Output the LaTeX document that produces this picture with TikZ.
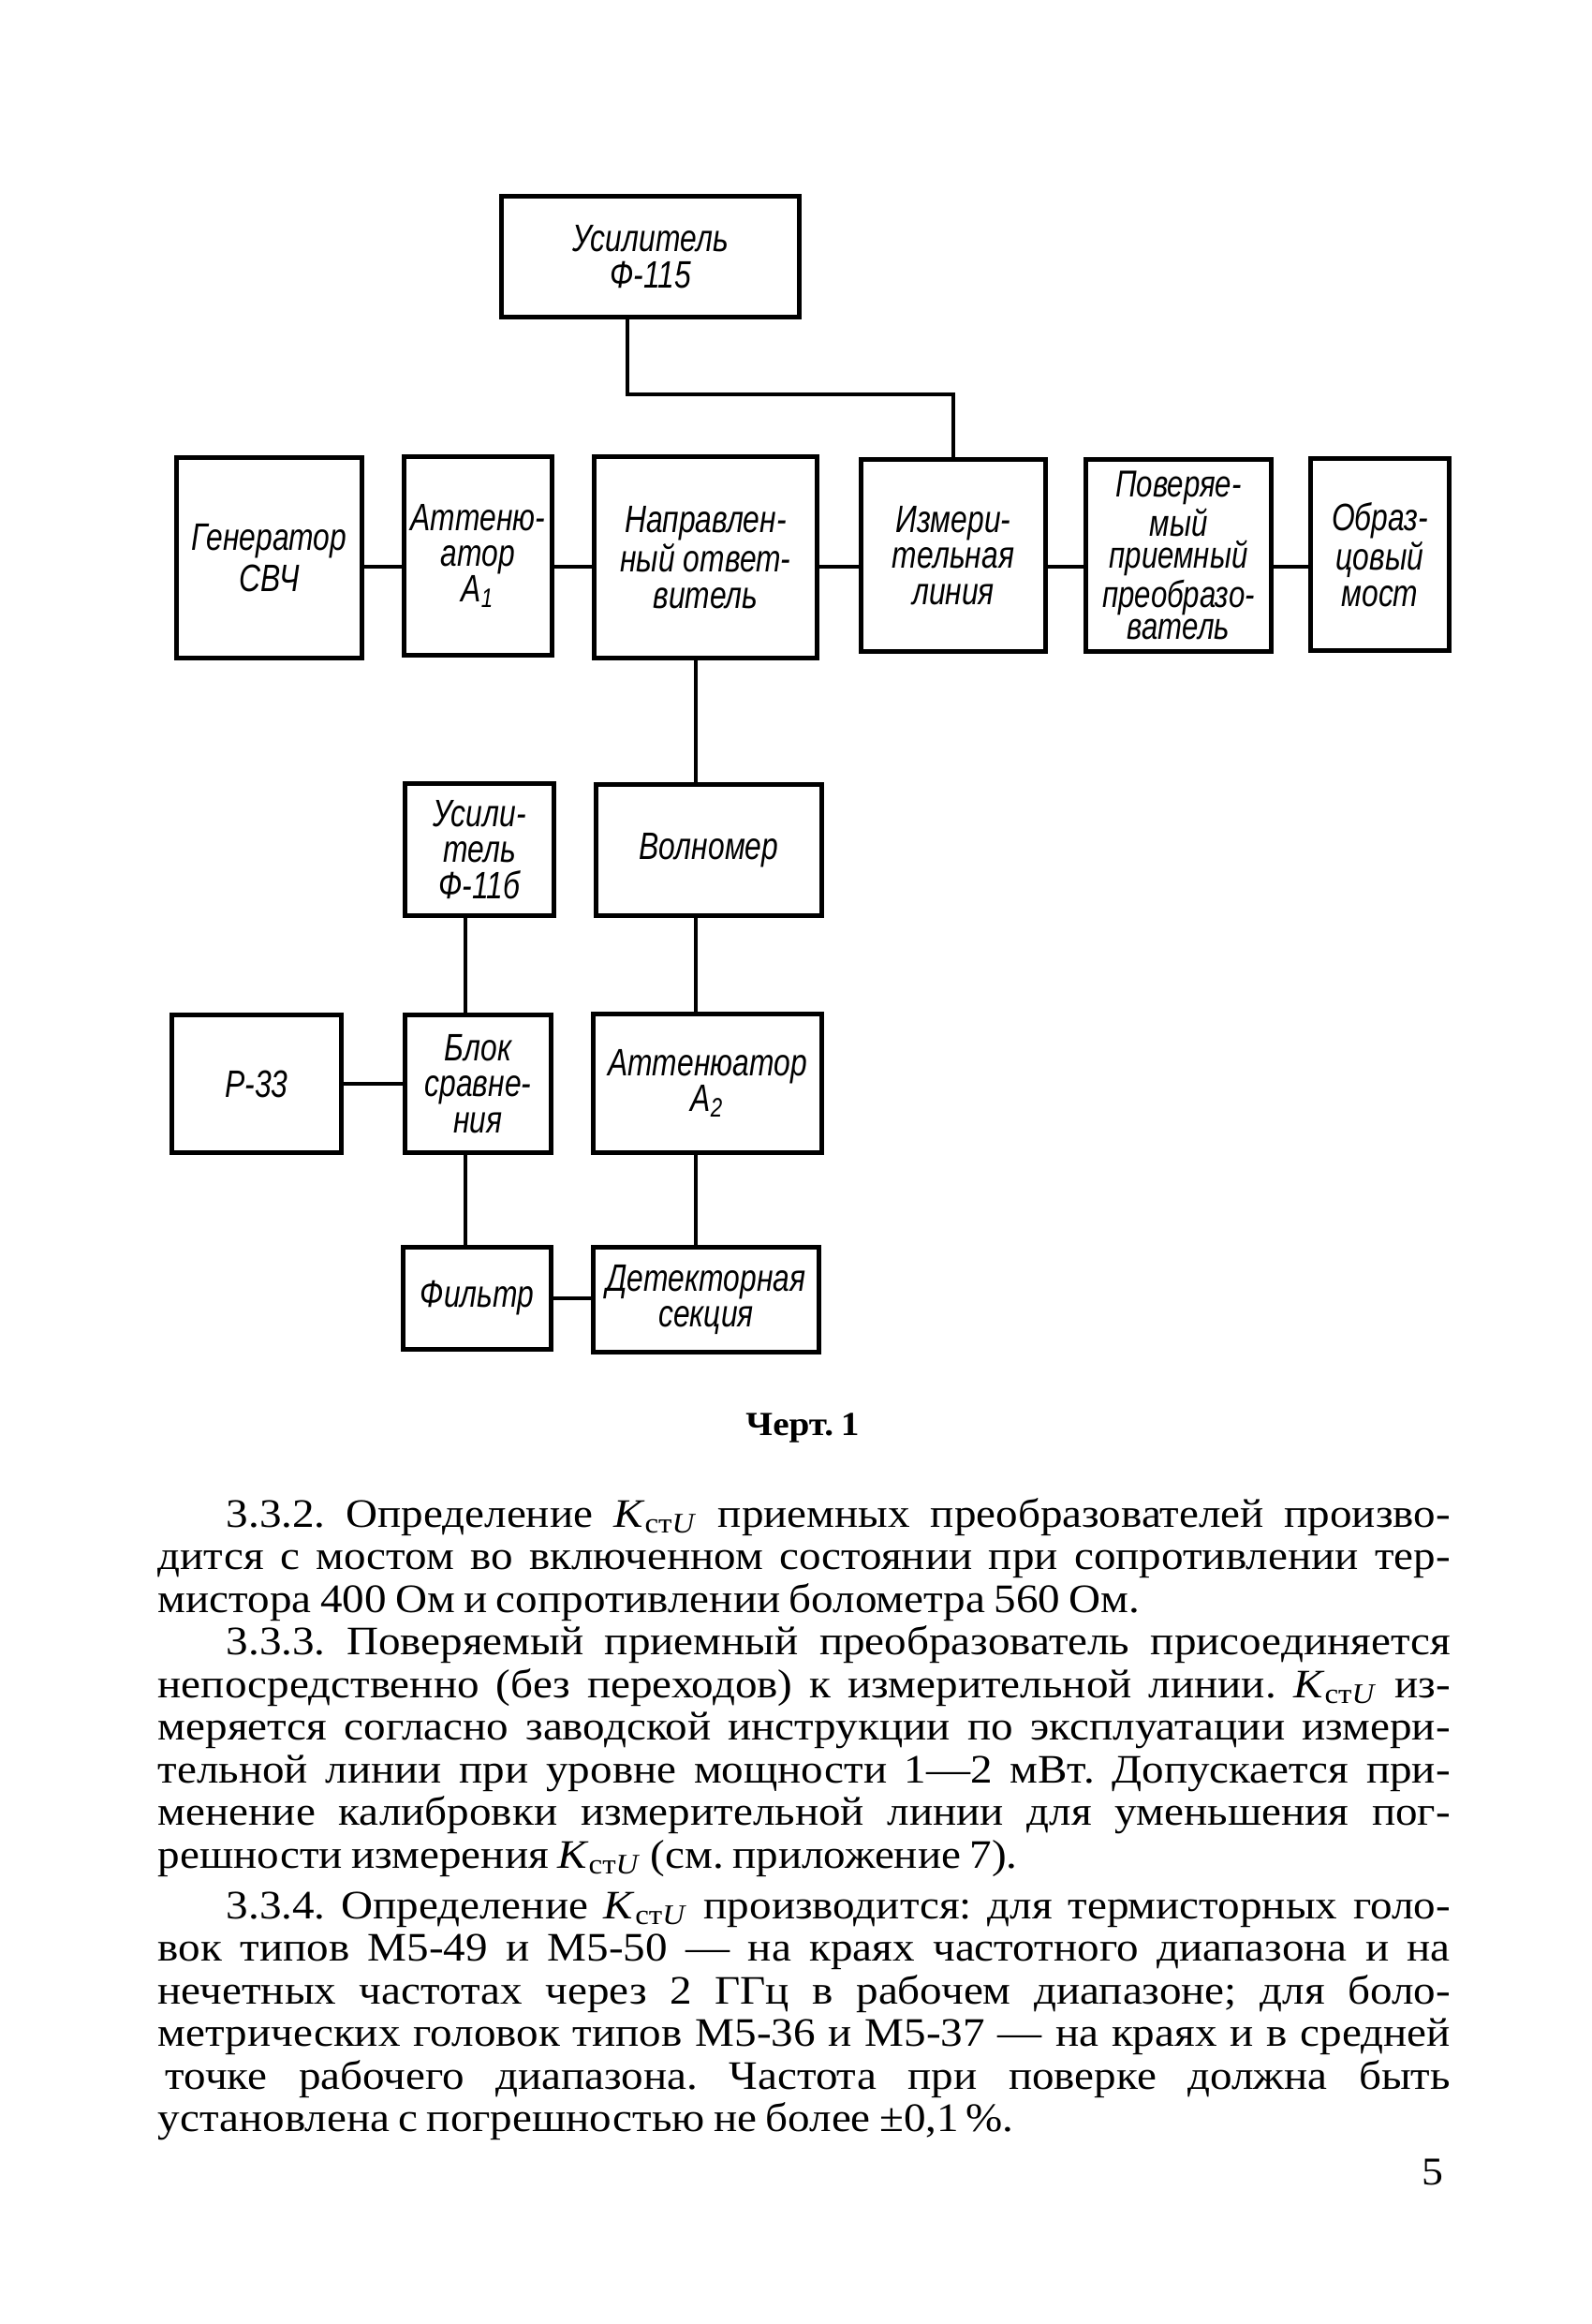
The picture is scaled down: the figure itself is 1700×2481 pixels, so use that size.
\documentclass[tikz,border=0pt]{standalone}
\usepackage{fontspec}
\usepackage{graphicx}
\setmainfont[FakeStretch=1.09, WordSpace=0.8]{Liberation Serif}
\newfontfamily\drawfont[FakeStretch=0.78]{Liberation Sans}
\usepackage{tikz}
\usetikzlibrary{positioning}

\newcommand{\Kst}{\textit{K}\textsubscript{ст\textit{U}}}
\newlength\jlen
\newcommand{\jline}[2]{\settowidth\jlen{#2}%
  \ifdim\jlen>#1\relax\scalebox{\fpeval{(#1)/\jlen}}[1]{#2}\else\makebox[#1][s]{#2}\fi}

\begin{document}
\frenchspacing
\begin{tikzpicture}[
    x=0.25pt, y=-0.25pt,
    unit/.style={draw, line width=1.4pt, inner sep=1pt, align=center,
      font=\drawfont\itshape\fontsize{10.2}{9.6}\selectfont},
    boxsize/.style 2 args={minimum width=#1*0.25pt, minimum height=#2*0.25pt},
    link/.style={line width=1.1pt},
    bodyline/.style={anchor=base west, inner sep=0pt, font=\fontsize{10.8}{11}\selectfont}
  ]
    \useasboundingbox (0,0) rectangle (1700,2481);

    % upper row
    \node[unit, boxsize={318}{129}] (amp) at (694.5,274) {Усилитель\\Ф-115};
    \node[unit, boxsize={198}{214}, font=\drawfont\itshape\fontsize{10.2}{11}\selectfont] (gen) at (287.5,595.5) {Генератор\\СВЧ};
    \node[unit, boxsize={158}{212}] (attA) at (510.5,593.5) {Аттеню-\\атор\\A\textsubscript{1}};
    \node[unit, boxsize={238}{215}] (coupler) at (753.5,595) {Направлен-\\ный ответ-\\витель};
    \node[unit, boxsize={197}{205}] (mline) at (1018,593) {Измери-\\тельная\\линия};
    \node[unit, boxsize={198}{205}, font=\drawfont\itshape\fontsize{10}{8.6}\selectfont] (dut) at (1258.5,593) {Поверяе-\\мый\\приемный\\преобразо-\\ватель};
    \node[unit, boxsize={148}{205}] (bridge) at (1473.5,592) {Образ-\\цовый\\мост};

    % lower part
    \node[unit, boxsize={159}{141}] (amp2) at (512,907) {Усили-\\тель\\Ф-11б};
    \node[unit, boxsize={241}{140}] (wmeter) at (757,907.5) {Волномер};
    \node[unit, boxsize={181}{147}] (r33) at (274,1157) {Р-33};
    \node[unit, boxsize={156}{147}] (cmp) at (510.5,1157) {Блок\\сравне-\\ния};
    \node[unit, boxsize={244}{148}] (attB) at (755.5,1156.5) {Аттенюатор\\A\textsubscript{2}};
    \node[unit, boxsize={158}{109}] (filt) at (509.5,1386) {Фильтр};
    \node[unit, boxsize={241}{112}] (det) at (754,1387.5) {Детекторная\\секция};

    % connections
    \coordinate (bend) at (670,421);
    \draw[link] (amp.south -| bend) -- (bend) -| (mline.north);
    \coordinate (row) at (0,605);
    \foreach \a/\b in {gen/attA, attA/coupler, coupler/mline, mline/dut, dut/bridge}
      \draw[link] (\a.east |- row) -- (\b.west |- row);
    \coordinate (rcol) at (743,0);
    \draw[link] (coupler.south -| rcol) -- (wmeter.north -| rcol);
    \draw[link] (wmeter.south -| rcol) -- (attB.north -| rcol);
    \draw[link] (attB.south -| rcol) -- (det.north -| rcol);
    \coordinate (lcol) at (497,0);
    \draw[link] (amp2.south -| lcol) -- (cmp.north -| lcol);
    \draw[link] (cmp.south -| lcol) -- (filt.north -| lcol);
    \draw[link] (r33.east) -- (cmp.west);
    \draw[link] (filt.east) -- (filt.east -| det.west);

    % caption
    \node[anchor=base, inner sep=0pt, font=\bfseries\fontsize{9}{10}\selectfont] (caption) at (857,1532) {Черт. 1};

    % text
    \node[bodyline] (t1) at (241,1630) {\jline{326.75pt}{3.3.2. Определение \Kst\ приемных преобразователей произво-}};
    \node[bodyline] (t2) at (168,1675.5) {\jline{345pt}{дится с мостом во включенном состоянии при сопротивлении тер-}};
    \node[bodyline] (t3) at (168,1721) {мистора 400 Ом и сопротивлении болометра 560 Ом.};
    \node[bodyline] (t4) at (241,1766.5) {\jline{326.75pt}{3.3.3. Поверяемый приемный преобразователь присоединяется}};
    \node[bodyline] (t5) at (168,1812) {\jline{345pt}{непосредственно (без переходов) к измерительной линии. \Kst\ из-}};
    \node[bodyline] (t6) at (168,1857.5) {\jline{345pt}{меряется согласно заводской инструкции по эксплуатации измери-}};
    \node[bodyline] (t7) at (168,1903) {\jline{345pt}{тельной линии при уровне мощности 1—2 мВт. Допускается при-}};
    \node[bodyline] (t8) at (168,1948.5) {\jline{345pt}{менение калибровки измерительной линии для уменьшения пог-}};
    \node[bodyline] (t9) at (168,1994) {решности измерения \Kst\ (см. приложение 7).};
    \node[bodyline] (t10) at (241,2048) {\jline{326.75pt}{3.3.4. Определение \Kst\ производится: для термисторных голо-}};
    \node[bodyline] (t11) at (168,2093.5) {\jline{345pt}{вок типов М5-49 и М5-50 — на краях частотного диапазона и на}};
    \node[bodyline] (t12) at (168,2139) {\jline{345pt}{нечетных частотах через 2 ГГц в рабочем диапазоне; для боло-}};
    \node[bodyline] (t13) at (168,2184.5) {\jline{345pt}{метрических головок типов М5-36 и М5-37 — на краях и в средней}};
    \node[bodyline] (t14) at (176,2230) {\jline{343pt}{точке рабочего диапазона. Частота при поверке должна быть}};
    \node[bodyline] (t15) at (168,2275.5) {установлена с погрешностью не более ±0,1\,\%.};

    % page number
    \node[anchor=base, inner sep=0pt, font=\fontsize{10.5}{12}\selectfont] (pagenum) at (1530,2332) {5};
\end{tikzpicture}
\end{document}
